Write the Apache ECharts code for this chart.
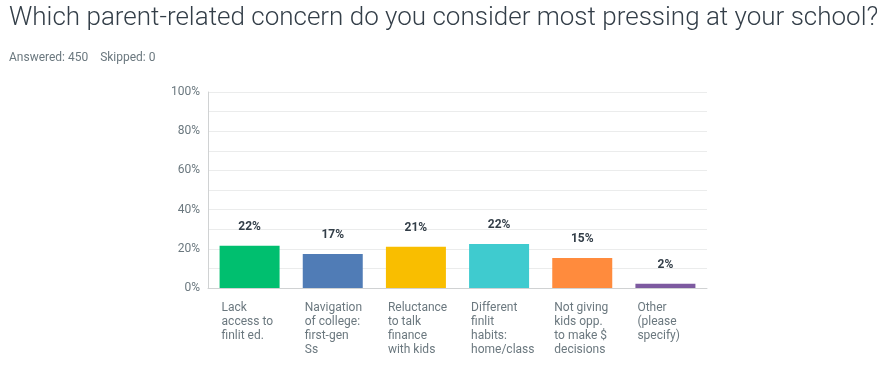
<!DOCTYPE html>
<html>
<head>
<meta charset="utf-8">
<script src="https://cdn.jsdelivr.net/npm/echarts@6/dist/echarts.min.js"></script>
<style>
  html, body { margin: 0; padding: 0; background: #fff; }
  #chart { width: 877px; height: 375px; }
</style>
</head>
<body>
<div id="chart"></div>
<script>
const categories = [
    'Lack\naccess to\nfinlit ed.',
    'Navigation\nof college:\nfirst-gen\nSs',
    'Reluctance\nto talk\nfinance\nwith kids',
    'Different\nfinlit\nhabits:\nhome/class',
    'Not giving\nkids opp.\nto make $\ndecisions',
    'Other\n(please\nspecify)'
];
const values = [21.6, 17.3, 21.1, 22.4, 15.3, 2.2];
const colors = ['#00bf6f', '#507cb6', '#f9be00', '#3fcbcf', '#ff8b3d', '#7d5aa0'];

const getOption = () => {
    return {
        animation: false,
        title: {
            text: 'Which parent-related concern do you consider most pressing at your school?',
            subtext: 'Answered: 450    Skipped: 0',
            left: 4,
            top: 0,
            itemGap: 21,
            textStyle: { fontFamily: 'Roboto', fontWeight: 300, fontSize: 26, color: '#333e48' },
            subtextStyle: { fontFamily: 'Roboto', fontSize: 12, color: '#6b787f' }
        },
        grid: { left: 208, right: 170, top: 92, bottom: 87 },
        xAxis: {
            type: 'category',
            data: categories,
            axisTick: { show: false },
            axisLine: { lineStyle: { color: '#d0d2d3' } },
            axisLabel: {
                interval: 0,
                margin: 13,
                formatter: (v) => v.split('\n').map(s => '{a|' + s + '}').join('\n'),
                rich: {
                    a: { width: 56, align: 'left', fontFamily: 'Roboto', fontSize: 12, lineHeight: 14, color: '#6b787f' }
                }
            }
        },
        yAxis: {
            type: 'value',
            min: 0,
            max: 100,
            interval: 10,
            axisLine: { show: true, lineStyle: { color: '#d0d2d3' } },
            splitLine: { lineStyle: { color: '#ebecec' } },
            axisLabel: {
                margin: 8,
                fontFamily: 'Roboto',
                fontSize: 12,
                color: '#6b787f',
                formatter: (v) => (v % 20 === 0 ? v + '%' : '')
            }
        },
        series: [
            {
                type: 'bar',
                barWidth: 60,
                data: values.map((v, i) => ({ value: v, itemStyle: { color: colors[i] } })),
                label: {
                    show: true,
                    position: 'top',
                    distance: 13,
                    fontFamily: 'Roboto',
                    fontWeight: 'bold',
                    fontSize: 12,
                    color: '#333e48',
                    formatter: (p) => Math.round(p.value) + '%'
                }
            }
        ]
    };
};

window.addEventListener('load', () => {
    const chart = echarts.init(document.getElementById('chart'));
    chart.setOption(getOption());
});
</script>
</body>
</html>
